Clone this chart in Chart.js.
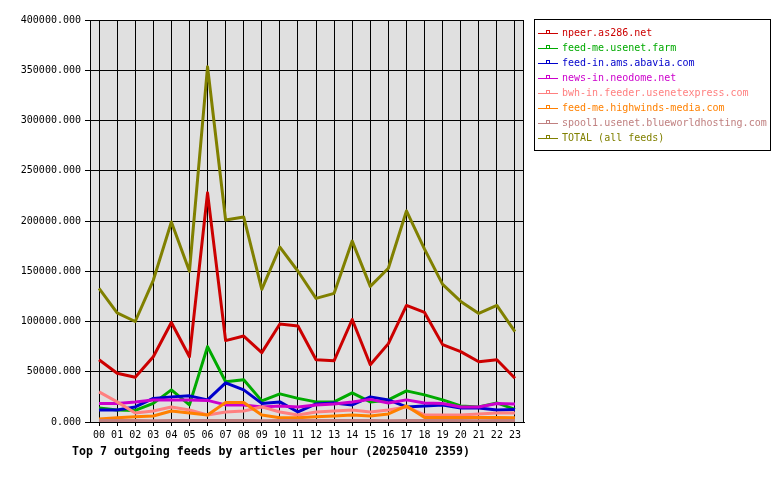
<!DOCTYPE html>
<html>
<head>
<meta charset="utf-8">
<script src="https://cdn.jsdelivr.net/npm/chart.js@4/dist/chart.umd.min.js"></script>
<style>
  body { margin: 0; background: #fff; }
  canvas { display: block; }
</style>
</head>
<body>
<canvas id="feedChart" width="780" height="480"></canvas>
<script>
// hours along the x axis
var hours = ['00','01','02','03','04','05','06','07','08','09','10','11',
             '12','13','14','15','16','17','18','19','20','21','22','23'];

// articles per hour
var npeer    = [62000,48500,44500,65000,99000,65000,228000,81000,85500,69000,97500,95500,
                62000,61000,102000,57000,78000,116000,109000,77000,70000,60000,62000,43500];
var farm     = [14000,12000,11500,18500,32000,17000,75000,40000,42000,21000,28000,23500,
                20000,20000,29000,20000,22000,31000,27000,22000,16000,15000,19000,12500];
var abavia   = [12000,12000,15000,23500,25000,26000,22000,39000,32000,18500,20000,10000,
                18000,19000,17000,25000,22000,15000,16000,17000,14000,14000,12000,12500];
var neodome  = [18500,18500,20000,22000,22000,22000,21500,17000,17000,15000,16000,15000,
                17000,18000,20000,22500,19000,22000,19000,18500,15000,15000,18500,18000];
var bwh      = [30000,20000,9000,11000,15000,12000,7000,10000,11000,15000,10000,7000,
                10000,11000,12000,10000,12000,15000,7000,7000,7000,8000,9000,9000];
var highwind = [3000,4300,5300,6000,11000,9000,7000,19500,19500,7000,4300,4300,
                5300,6000,7000,6000,8000,16000,4600,4600,4600,4600,4600,4300];
var spool1   = [1500,1400,1500,1300,1500,1600,1400,1500,1500,1300,1400,1500,
                1400,1500,1500,1400,1300,1500,1400,1500,1400,1300,1500,1400];
var total    = [133000,108500,100000,141000,199000,150000,353500,201000,204000,132000,174000,150000,
                123000,128000,180000,135000,153000,210000,172000,137000,120000,108000,116000,90000];

var feedNames  = ['npeer.as286.net','feed-me.usenet.farm','feed-in.ams.abavia.com','news-in.neodome.net',
                  'bwh-in.feeder.usenetexpress.com','feed-me.highwinds-media.com',
                  'spool1.usenet.blueworldhosting.com','TOTAL (all feeds)'];
var feedColors = ['#cc0000','#00aa00','#0000cc','#cc00cc','#ff8080','#ff8000','#c08080','#808000'];
var feedValues = [npeer, farm, abavia, neodome, bwh, highwind, spool1, total];

var monoFont = '"DejaVu Sans Mono", monospace';

var datasets = feedNames.map(function (name, i) {
  return {
    label: name,
    data: feedValues[i],
    borderColor: feedColors[i],
    backgroundColor: feedColors[i],
    borderWidth: 3,
    borderJoinStyle: 'round',
    pointRadius: 0,
    tension: 0,
    fill: false,
    order: feedNames.length - i   // later feeds on top, TOTAL last
  };
});

// grey plot background and black frame
var plotFrame = {
  id: 'plotFrame',
  beforeDraw: function (chart) {
    var a = chart.chartArea, ctx = chart.ctx;
    ctx.save();
    ctx.fillStyle = '#e0e0e0';
    ctx.fillRect(a.left, a.top, a.right - a.left, a.bottom - a.top);
    ctx.restore();
  },
  afterDraw: function (chart) {
    var a = chart.chartArea, ctx = chart.ctx;
    ctx.save();
    ctx.strokeStyle = '#000';
    ctx.lineWidth = 1;
    ctx.strokeRect(Math.round(a.left) + 0.5, Math.round(a.top) + 0.5,
                   Math.round(a.right - a.left) - 1, Math.round(a.bottom - a.top));
    ctx.restore();
  }
};

// legend box on the right, and the title under the plot
var sideLegend = {
  id: 'sideLegend',
  afterDraw: function (chart) {
    var ctx = chart.ctx;
    ctx.save();
    ctx.strokeStyle = '#000';
    ctx.lineWidth = 1;
    ctx.strokeRect(534.5, 19.5, 236, 131);
    ctx.font = '10px ' + monoFont;
    ctx.textBaseline = 'middle';
    chart.data.datasets.forEach(function (ds, i) {
      var y = 33 + i * 15;
      ctx.strokeStyle = ds.borderColor;
      ctx.fillStyle = ds.borderColor;
      ctx.beginPath();
      ctx.moveTo(538, y + 0.5);
      ctx.lineTo(558, y + 0.5);
      ctx.stroke();
      ctx.strokeRect(546.5, y - 2.5, 3, 3);
      ctx.fillText(ds.label, 562, y);
    });
    ctx.fillStyle = '#000';
    ctx.font = 'bold 11.6px ' + monoFont;
    ctx.fillText('Top 7 outgoing feeds by articles per hour (20250410 2359)', 72, 452);
    ctx.restore();
  }
};

var ctx_feed = document.getElementById('feedChart').getContext('2d');
var feedChart = new Chart(ctx_feed, {
  type: 'line',
  data: { labels: hours, datasets: datasets },
  options: {
    responsive: false,
    animation: false,
    layout: { padding: { left: 0, right: 256, top: 20, bottom: 38 } },
    plugins: {
      legend: { display: false },
      tooltip: { enabled: false },
      title: { display: false }
    },
    scales: {
      x: {
        type: 'category',
        offset: true,
        grid: { offset: false, color: '#000', lineWidth: 1, tickLength: 4, drawOnChartArea: true },
        border: { color: '#000' },
        ticks: { color: '#000', font: { family: monoFont, size: 10 }, maxRotation: 0, autoSkip: false, padding: 3 },
        afterFit: function (scale) { scale.height = 20; }
      },
      y: {
        min: 0,
        max: 400000,
        grid: { color: '#000', lineWidth: 1, tickLength: 5 },
        border: { color: '#000' },
        ticks: {
          stepSize: 50000,
          color: '#000',
          font: { family: monoFont, size: 10 },
          padding: 4,
          callback: function (v) { return v.toFixed(3); }
        },
        afterFit: function (scale) { scale.width = 90; }
      }
    }
  },
  plugins: [plotFrame, sideLegend]
});
</script>
</body>
</html>
